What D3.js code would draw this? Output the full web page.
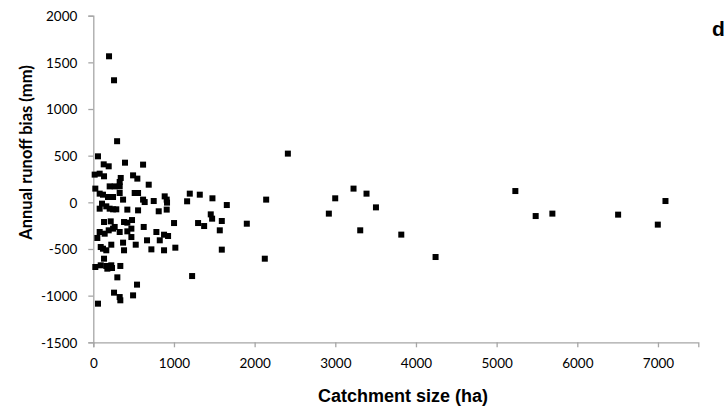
<!DOCTYPE html>
<html>
<head>
<meta charset="utf-8">
<script src="https://cdn.jsdelivr.net/npm/d3@7/dist/d3.min.js"></script>
<style>
  html, body { margin: 0; padding: 0; background: #fff; }
  svg { display: block; }
  .tick text { font-family: Lato, "Open Sans", sans-serif; font-size: 13.5px; fill: #000; }
</style>
</head>
<body>
<svg id="chart" width="727" height="414"></svg>
<script>
// --- DATA ---
// catchment size (ha)
var catchmentSize = [
  195, 257, 295, 58, 129, 191, 393, 617,
  17, 79, 133, 340, 493, 546, 327, 687,
  25, 203, 265, 327, 79, 120, 182, 245, 327, 513, 555,
  369, 617, 637, 749, 885, 910, 914, 1163, 1196, 1320, 1477, 1655,
  108, 79, 161, 203, 245, 285, 422, 555, 811, 910,
  133, 216, 265, 381, 422, 480, 472, 625, 1001, 1299, 1374,
  79, 141, 191, 245, 327, 50, 422, 472, 782, 824, 877, 927, 666,
  92, 120, 161, 223, 369, 381, 526, 720, 877, 1017,
  133, 25, 92, 161, 223, 232, 174, 335,
  298, 1225, 542, 257, 327, 335, 493, 58,
  1593, 1568, 1593, 1456, 1473, 1903,
  2412, 2143, 2126, 2999, 3226, 3387, 2920, 3504, 3309, 3818, 4243,
  5232, 5484, 5691, 6506, 6998, 7093
];
// annual runoff bias (mm), same order as catchmentSize
var runoffBias = [
  1565, 1308, 655, 493, 407, 386, 425, 404,
  297, 307, 279, 261, 289, 254, 218, 189,
  147, 171, 171, 171, 93, 82, 57, 57, 100, 100, 100,
  29, 29, 3, 14, 64, 29, -3, 11, 93, 82, 43, -29,
  -14, -68, -43, -68, -75, -75, -78, -86, -96, -78,
  -211, -204, -264, -211, -218, -190, -282, -264, -222, -222, -254,
  -318, -336, -300, -282, -318, -382, -311, -372, -318, -407, -347, -361, -407,
  -479, -497, -514, -454, -432, -514, -454, -504, -514, -486,
  -604, -693, -675, -682, -675, -704, -711, -682,
  -804, -790, -882, -968, -1015, -1050, -997, -1086,
  -507, -300, -200, -129, -175, -229,
  522, 29, -604, 43, 147, 93, -121, -54, -300, -346, -586,
  121, -147, -121, -132, -239, 14
];
var xTicks = [0, 1000, 2000, 3000, 4000, 5000, 6000, 7000];
var yTicks = [-1500, -1000, -500, 0, 500, 1000, 1500, 2000];
var xTitle = "Catchment size (ha)";
var yTitle = "Annual runoff bias (mm)";
var panelLabel = "d";

// --- LAYOUT ---
var axisColor = "#a6a6a6";
var svg = d3.select("#chart");

var x = d3.scaleLinear().domain([0, 7500]).range([93.3, 698.3]);
var y = d3.scaleLinear().domain([-1500, 2000]).range([342.3, 15.7]);

// plain hyphen for negatives, like the original
var plain = function(d) { return String(d); };

// y axis
var yAxis = svg.append("g")
    .attr("transform", "translate(" + x(0) + ",0)")
    .call(d3.axisLeft(y).tickValues(yTicks).tickSize(5).tickPadding(11).tickFormat(plain));

// x axis
var xAxis = svg.append("g")
    .attr("transform", "translate(0," + y(-1500) + ")")
    .call(d3.axisBottom(x).tickValues(xTicks).tickSize(5).tickPadding(11).tickFormat(plain));

[xAxis, yAxis].forEach(function(ax) {
    ax.select(".domain").attr("stroke", axisColor).attr("stroke-width", 1.3);
    ax.selectAll(".tick line").attr("stroke", axisColor).attr("stroke-width", 1.3);
});
yAxis.selectAll(".tick text").attr("dy", "0.36em");
xAxis.selectAll(".tick text").attr("dy", "0.72em");

// points
var points = catchmentSize.map(function(d, i) { return [d, runoffBias[i]]; });
var size = 6;
svg.append("g")
    .selectAll("rect")
    .data(points)
    .enter()
    .append("rect")
    .attr("x", function(d) { return x(d[0]) - size / 2; })
    .attr("y", function(d) { return y(d[1]) - size / 2; })
    .attr("width", size)
    .attr("height", size)
    .attr("fill", "#000");

// titles
svg.append("text")
    .attr("x", 403)
    .attr("y", 402)
    .attr("text-anchor", "middle")
    .style("font-family", "'Liberation Sans', Arial, sans-serif")
    .style("font-weight", "bold")
    .style("font-size", "18px")
    .text(xTitle);

svg.append("text")
    .attr("transform", "translate(31.5,152.5) rotate(-90)")
    .attr("text-anchor", "middle")
    .style("font-family", "Lato, sans-serif")
    .style("font-weight", "bold")
    .style("font-size", "16.5px")
    .text(yTitle);

svg.append("text")
    .attr("x", 712)
    .attr("y", 36)
    .style("font-family", "'Liberation Sans', Arial, sans-serif")
    .style("font-weight", "bold")
    .style("font-size", "21px")
    .text(panelLabel);
</script>
</body>
</html>
